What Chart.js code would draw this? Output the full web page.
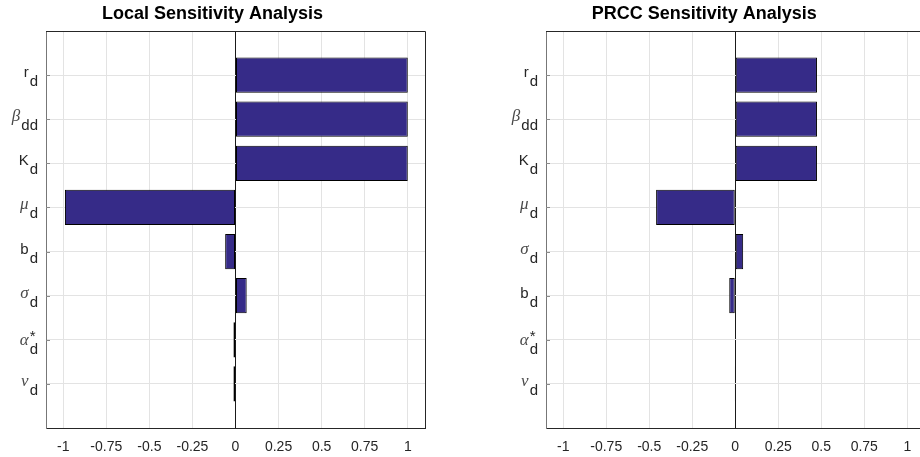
<!DOCTYPE html>
<html><head><meta charset="utf-8">
<script src="https://cdn.jsdelivr.net/npm/chart.js@4/dist/chart.umd.min.js"></script>
<style>
html,body{margin:0;padding:0;background:#fff;overflow:hidden;width:920px;height:457px;position:relative;}
#c1{position:absolute;left:0;top:0;}
#c2{position:absolute;left:484px;top:0;}
</style></head><body>
<canvas id="c1" width="434" height="457"></canvas>
<canvas id="c2" width="468" height="457"></canvas>
<script>
// ---- data ----
const xTicks = [-1, -0.75, -0.5, -0.25, 0, 0.25, 0.5, 0.75, 1];
const localLabels = ['r_d', 'β_dd', 'K_d', 'μ_d', 'b_d', 'σ_d', 'α^*_d', 'ν_d'];
const localValues = [1.0, 1.0, 1.0, -0.99, -0.06, 0.065, -0.012, -0.012];
const prccLabels = ['r_d', 'β_dd', 'K_d', 'μ_d', 'σ_d', 'b_d', 'α^*_d', 'ν_d'];
const prccValues = [0.475, 0.475, 0.475, -0.46, 0.046, -0.035, -0.003, -0.002];
const titles = ['Local Sensitivity Analysis', 'PRCC Sensitivity Analysis'];

const barColor = '#362b88';
const SANS = '"Liberation Sans", Arial, Helvetica, sans-serif';
const SERIF = '"Liberation Serif", "DejaVu Serif", serif';
const GREEK = 'βμσαν';

function parseLabel(s) {
  let main = s, sub = '', sup = '';
  const iu = s.indexOf('_');
  if (iu >= 0) { sub = s.slice(iu + 1); main = s.slice(0, iu); }
  const ic = main.indexOf('^');
  if (ic >= 0) { sup = main.slice(ic + 1); main = main.slice(0, ic); }
  return {main, sub, sup};
}

function texLabels(labels) {
  return {
    id: 'texLabels',
    afterDraw(chart) {
      const ctx = chart.ctx;
      const ys = chart.scales.y;
      const left = chart.chartArea.left;
      ctx.save();
      ctx.textBaseline = 'alphabetic';
      ctx.textAlign = 'left';
      labels.forEach((lab, i) => {
        const p = parseLabel(lab);
        const y = ys.getPixelForValue(i + 1);
        const greek = GREEK.indexOf(p.main) >= 0;
        ctx.font = '15px ' + SANS;
        const subW = ctx.measureText(p.sub).width;
        const subX = left - 8 - subW;
        const dy = p.sup ? 3 : 0;
        // subscript
        ctx.fillStyle = '#262626';
        ctx.fillText(p.sub, subX, y + 11 + dy);
        // main
        ctx.font = (greek ? 'italic 17px ' + SERIF : '15px ' + SANS);
        const mainW = ctx.measureText(p.main).width;
        ctx.fillStyle = greek ? '#4a4a4a' : '#262626';
        ctx.fillText(p.main, subX - 1 - mainW, y + 2 + dy);
        // superscript
        if (p.sup) {
          ctx.font = '15px ' + SANS;
          ctx.fillStyle = '#262626';
          ctx.fillText(p.sup, subX, y + 1);
        }
        // small inward tick on left axis
        ctx.strokeStyle = '#8a8a8a';
        ctx.lineWidth = 1;
        ctx.beginPath();
        ctx.moveTo(left, Math.round(y) + 0.5);
        ctx.lineTo(left + 4, Math.round(y) + 0.5);
        ctx.stroke();
      });
      ctx.restore();
    }
  };
}

const boxPlugin = {
  id: 'boxPlugin',
  afterDatasetsDraw(chart) {
    const {ctx, chartArea: a} = chart;
    ctx.save();
    ctx.strokeStyle = '#262626';
    ctx.lineWidth = 1;
    ctx.beginPath();
    ctx.moveTo(Math.round(a.left), Math.round(a.top) + 0.5);
    ctx.lineTo(Math.round(a.right) + 0.5, Math.round(a.top) + 0.5);
    ctx.lineTo(Math.round(a.right) + 0.5, Math.round(a.bottom));
    ctx.stroke();
    ctx.restore();
  }
};

function makeChart(id, title, labels, values, axisW, padRight) {
  return new Chart(document.getElementById(id), {
    type: 'bar',
    data: {
      datasets: [{
        data: values.map((v, i) => ({x: v, y: i + 1})),
        backgroundColor: barColor,
        borderColor: '#000',
        borderWidth: 1,
        borderSkipped: false,
        barPercentage: 0.8,
        categoryPercentage: 1
      }]
    },
    options: {
      indexAxis: 'y',
      responsive: false,
      animation: false,
      devicePixelRatio: 1,
      layout: {padding: {left: 0, right: padRight, top: 0, bottom: 0}},
      plugins: {
        legend: {display: false},
        tooltip: {enabled: false},
        title: {
          display: true, text: title, color: '#000',
          font: {family: SANS, size: 18, weight: 'bold', lineHeight: 1.2},
          padding: {top: 3.5, bottom: 5.9}
        }
      },
      scales: {
        x: {
          type: 'linear', min: -1.1, max: 1.1,
          afterBuildTicks: s => { s.ticks = xTicks.map(v => ({value: v})); },
          afterFit: s => { s.height = 29; },
          grid: {
            color: c => (c.tick && c.tick.value === 0) ? '#1a1a1a' : '#e3e3e3',
            drawTicks: false, lineWidth: 1
          },
          border: {display: true, color: '#262626', width: 1},
          ticks: {
            padding: 11, color: '#262626', autoSkip: false, maxRotation: 0,
            font: {family: SANS, size: 14},
            callback: v => String(v)
          }
        },
        y: {
          type: 'linear', min: 0, max: 9, reverse: true, offset: false,
          afterBuildTicks: s => { s.ticks = [0,1,2,3,4,5,6,7,8,9].map(v => ({value: v})); },
          afterFit: s => { s.width = axisW; },
          grid: {color: '#e3e3e3', drawTicks: false, offset: false},
          border: {display: true, color: '#777', width: 1},
          ticks: {display: false}
        }
      }
    },
    plugins: [texLabels(labels), boxPlugin]
  });
}

makeChart('c1', titles[0], localLabels, localValues, 46, 9);
makeChart('c2', titles[1], prccLabels, prccValues, 62, 27.5);
</script>
</body></html>
